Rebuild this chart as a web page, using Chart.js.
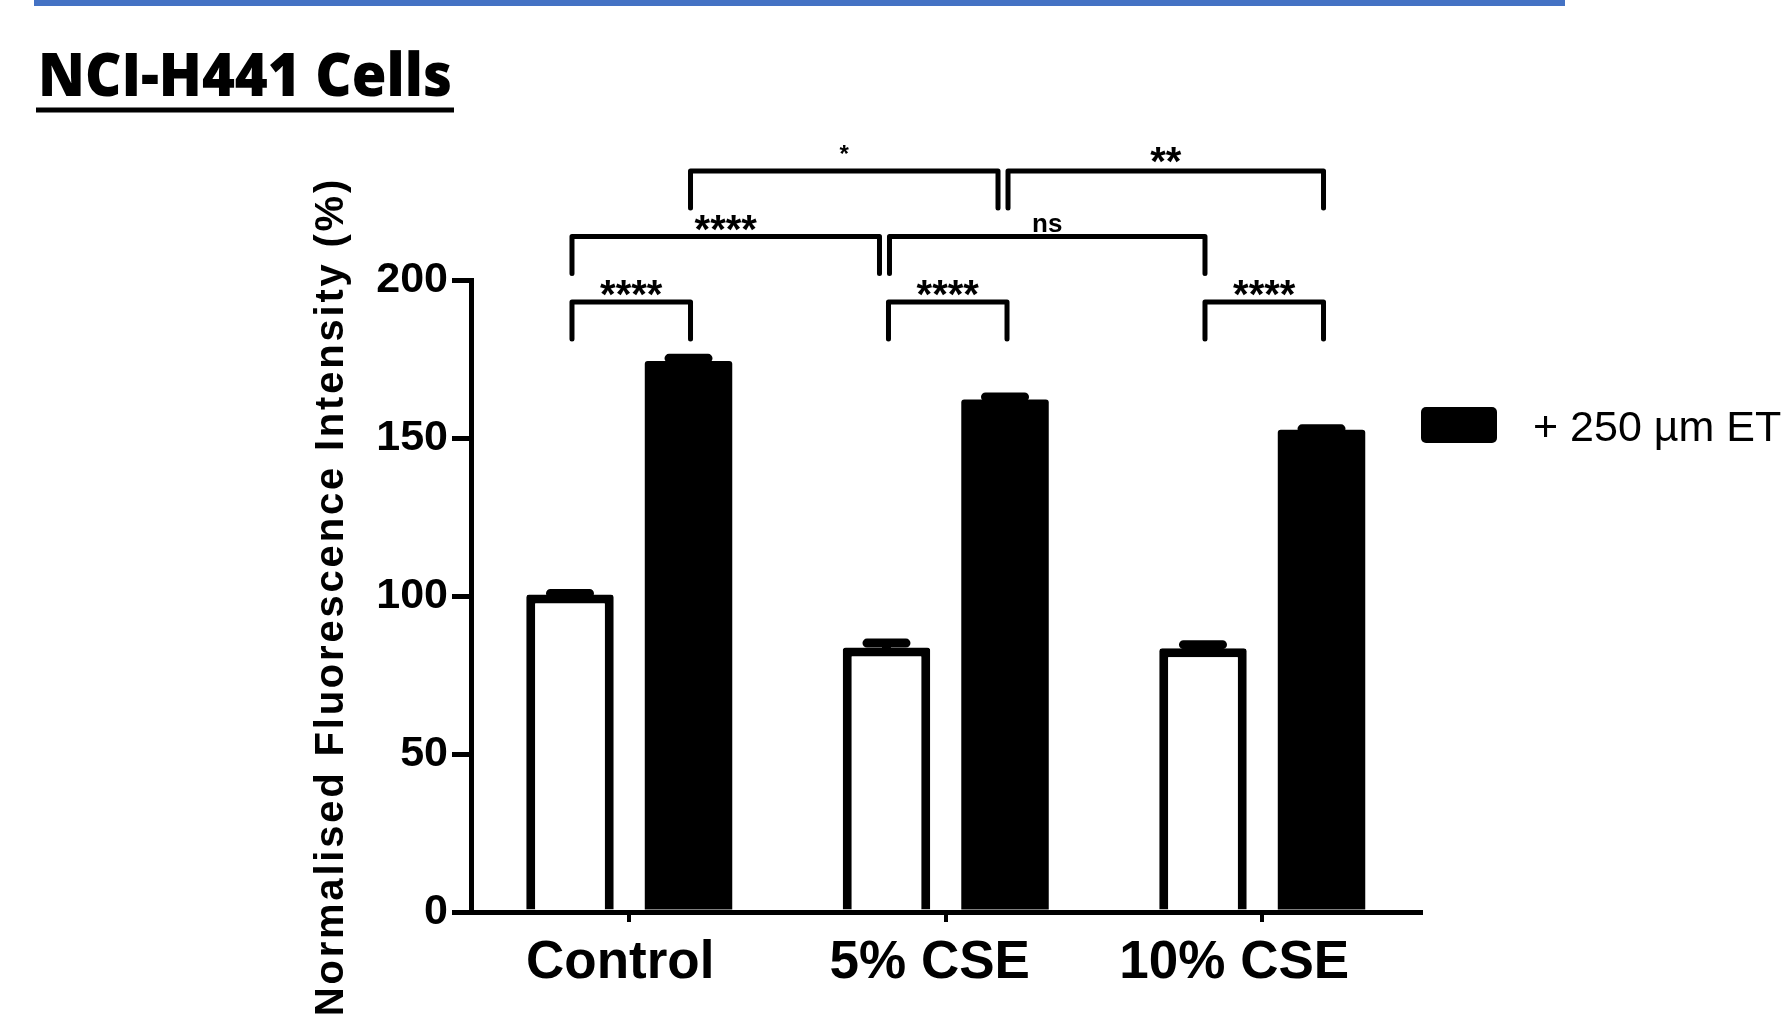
<!DOCTYPE html>
<html lang="en">
<head>
<meta charset="UTF-8">
<title>NCI-H441 Cells</title>
<script src="https://cdn.jsdelivr.net/npm/chart.js"></script>
<style>
  html, body { margin: 0; padding: 0; background: #fff; }
  #wrap { position: relative; width: 1787px; height: 1015px; overflow: hidden; }
</style>
</head>
<body>
<div id="wrap"><canvas id="chart" width="1787" height="1015"></canvas></div>
<script>
const groups = ['Control', '5% CSE', '10% CSE'];
const seriesNames = ['No ET', '+ 250 µm ET'];
const meanNoET = [100.5, 83.7, 83.5];
const meanET = [174.4, 162.2, 152.6];
const semNoET = [0.3, 1.4, 1.1];
const semET = [0.8, 0.8, 0.3];
const yTicks = [0, 50, 100, 150, 200];
const yTitle = 'Normalised Fluorescence Intensity (%)';
const pageTitle = 'NCI-H441 Cells';

// significance brackets between bars: [dataset, group]
const brackets = [
  { a: [0, 0], b: [1, 0], level: 0, text: '****' },
  { a: [0, 1], b: [1, 1], level: 0, text: '****' },
  { a: [0, 2], b: [1, 2], level: 0, text: '****' },
  { a: [0, 0], b: [0, 1], level: 1, text: '****' },
  { a: [0, 1], b: [0, 2], level: 1, text: 'ns' },
  { a: [1, 0], b: [1, 1], level: 2, text: '*' },
  { a: [1, 1], b: [1, 2], level: 2, text: '**' }
];
const sigStyle = {
  '****': { font: 'bold 40px "Liberation Sans"', gap: 6 },
  '**': { font: 'bold 40px "Liberation Sans"', gap: 8 },
  '*': { font: 'bold 24px "Liberation Sans"', gap: 17 },
  'ns': { font: 'bold 26px "Liberation Sans"', gap: 5 }
};
// category labels sit a little left of their tick in the original
const labelNudge = [-9, -16, -28];

Chart.defaults.font.family = '"Liberation Sans", Arial, sans-serif';
Chart.defaults.color = '#000';

const errorBars = {
  id: 'errorBars',
  afterDatasetsDraw(chart) {
    const ctx = chart.ctx, y = chart.scales.y;
    const errs = [semNoET, semET];
    ctx.save();
    ctx.strokeStyle = '#000';
    ctx.lineWidth = 9;
    ctx.lineCap = 'round';
    chart.data.datasets.forEach((ds, di) => {
      chart.getDatasetMeta(di).data.forEach((bar, i) => {
        const top = y.getPixelForValue(ds.data[i] + errs[di][i]);
        const half = bar.width * 0.223;
        ctx.beginPath();
        ctx.moveTo(bar.x, bar.y);
        ctx.lineTo(bar.x, top);
        ctx.moveTo(bar.x - half, top);
        ctx.lineTo(bar.x + half, top);
        ctx.stroke();
      });
    });
    ctx.restore();
  }
};

function same(p, q) { return p[0] === q[0] && p[1] === q[1]; }

const decorations = {
  id: 'decorations',
  beforeDraw(chart) {
    const ctx = chart.ctx;
    ctx.save();
    ctx.fillStyle = '#fff';
    ctx.fillRect(0, 0, chart.width, chart.height);
    ctx.restore();
    const items = chart.scales.x.getLabelItems(chart.chartArea);
    items.forEach((it, i) => { it.options.translation[0] += labelNudge[i] || 0; });
  },
  afterDraw(chart) {
    const ctx = chart.ctx;
    const area = chart.chartArea;
    ctx.save();

    // slide header: blue rule, title, underline
    ctx.fillStyle = '#4472c4';
    ctx.fillRect(34, 0, 1531, 6);
    ctx.fillStyle = '#000';
    ctx.font = '800 60px "Open Sans", Lato, sans-serif';
    ctx.textAlign = 'left';
    ctx.textBaseline = 'alphabetic';
    const tw = ctx.measureText(pageTitle).width;
    ctx.save();
    ctx.translate(38, 96);
    ctx.scale(414 / tw, 1);
    ctx.fillText(pageTitle, 0, 0);
    ctx.restore();
    ctx.fillRect(36, 107.5, 418, 5);

    // y axis title, letter spaced, rotated
    ctx.save();
    ctx.font = 'bold 40px "Liberation Sans", Arial, sans-serif';
    const spacing = 2.8;
    const chars = [...yTitle];
    const widths = chars.map(c => ctx.measureText(c).width);
    const total = widths.reduce((s, w) => s + w, 0) + spacing * (chars.length - 1);
    ctx.translate(343, (area.top + area.bottom) / 2 + 2);
    ctx.rotate(-Math.PI / 2);
    let x = -total / 2;
    chars.forEach((c, i) => { ctx.fillText(c, x, 0); x += widths[i] + spacing; });
    ctx.restore();

    // significance brackets
    const px = p => chart.getDatasetMeta(p[0]).data[p[1]].x;
    ctx.strokeStyle = '#000';
    ctx.lineWidth = 5;
    ctx.lineCap = 'round';
    ctx.lineJoin = 'round';
    brackets.forEach(b => {
      let x1 = px(b.a) + 2, x2 = px(b.b) + 2;
      if (brackets.some(o => o !== b && o.level === b.level && same(o.a, b.b))) x2 -= 9;
      if (brackets.some(o => o !== b && o.level === b.level && same(o.b, b.a))) x1 += 1;
      const ly = 302 - b.level * 65.5;
      ctx.beginPath();
      ctx.moveTo(x1, ly + 37);
      ctx.lineTo(x1, ly);
      ctx.lineTo(x2, ly);
      ctx.lineTo(x2, ly + 37);
      ctx.stroke();
      const st = sigStyle[b.text];
      ctx.font = st.font;
      ctx.textAlign = 'center';
      const m = ctx.measureText(b.text);
      ctx.fillText(b.text, (x1 + x2) / 2, ly - st.gap - m.actualBoundingBoxDescent);
    });

    // legend (treated series only)
    const ds = chart.data.datasets[1];
    ctx.fillStyle = ds.backgroundColor;
    ctx.beginPath();
    ctx.roundRect(1421, 407, 76, 36, 5);
    ctx.fill();
    ctx.fillStyle = '#000';
    ctx.font = '43px "Liberation Sans", Arial, sans-serif';
    ctx.textAlign = 'left';
    ctx.fillText(ds.label, 1533, 441);

    ctx.restore();
  }
};

new Chart(document.getElementById('chart'), {
  type: 'bar',
  data: {
    labels: groups,
    datasets: [
      {
        label: seriesNames[0],
        data: meanNoET,
        backgroundColor: '#fff',
        borderColor: '#000',
        borderWidth: 9,
        borderSkipped: 'start',
        borderRadius: 3
      },
      {
        label: seriesNames[1],
        data: meanET,
        backgroundColor: '#000',
        borderColor: '#000',
        borderWidth: 0,
        borderRadius: 3
      }
    ]
  },
  options: {
    responsive: false,
    animation: false,
    events: [],
    layout: { padding: { left: 371, right: 366.5, top: 280, bottom: 23 } },
    datasets: { bar: { categoryPercentage: 0.749, barPercentage: 0.738 } },
    plugins: {
      legend: { display: false },
      tooltip: { enabled: false }
    },
    scales: {
      x: {
        offset: true,
        grid: { display: true, drawOnChartArea: false, offset: false, tickLength: 10, lineWidth: 4, color: '#000' },
        border: { display: true, width: 5, color: '#000' },
        ticks: { color: '#000', font: { size: 53, weight: 'bold' }, padding: 10, maxRotation: 0 },
        afterFit(s) { s.height = 80; }
      },
      y: {
        min: 0,
        max: 200,
        afterBuildTicks(s) { s.ticks = yTicks.map(v => ({ value: v })); },
        grid: { drawOnChartArea: false, tickLength: 19, lineWidth: 5, color: '#000' },
        border: { display: true, width: 5, color: '#000' },
        ticks: { color: '#000', font: { size: 43, weight: 'bold' }, padding: 4 },
        afterFit(s) { s.width = 100; }
      }
    }
  },
  plugins: [decorations, errorBars]
});
</script>
</body>
</html>
